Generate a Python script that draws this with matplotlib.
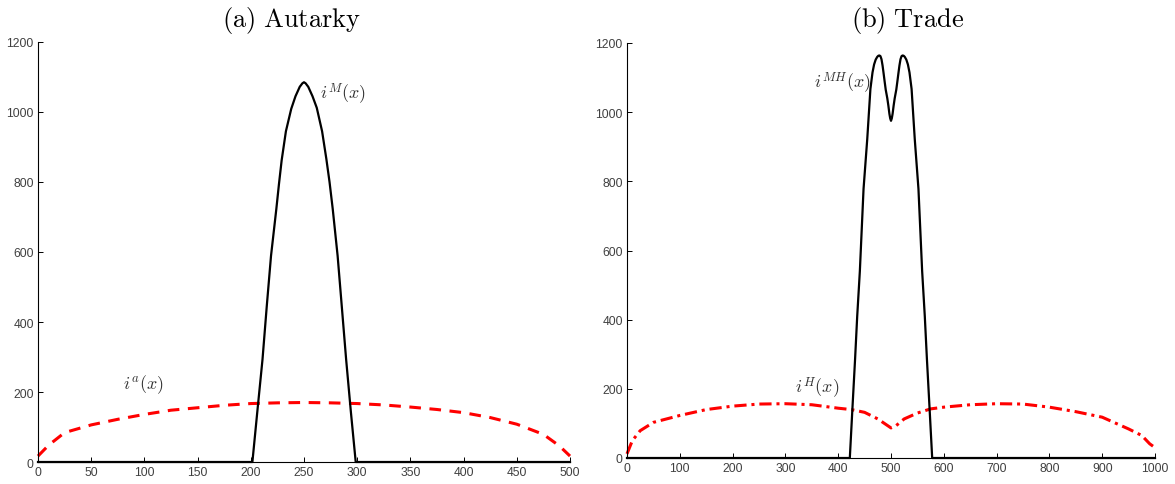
"""Autarky vs trade investment profiles, two panels side by side."""

import matplotlib

matplotlib.use("Agg")
import matplotlib.pyplot as plt

# panel (a): autarky
aut_x_red = [0, 10, 25, 50, 75, 100, 125, 150, 175, 200, 225, 250, 275, 300, 325, 350,
             375, 400, 425, 450, 475, 490, 500]
aut_i_a = [17, 48, 84, 106, 122, 136, 148, 155, 162, 167, 169, 170, 169, 167, 163, 157,
           150, 141, 127, 108, 79, 46, 17]
aut_x_black = [0, 201.5, 206, 211, 215, 219, 224, 226.5, 229, 233, 238, 242, 246, 248.5,
               250, 251.5, 254, 258, 262, 267, 271, 274, 277, 281.6, 285.5, 289.6, 294,
               298.6, 500]
aut_i_m = [0, 0, 140, 293, 445, 589, 723, 795, 862, 945, 1009, 1045, 1072, 1082,
           1085, 1082, 1072, 1045, 1012, 945, 866, 800, 723, 589, 445, 293, 145,
           0, 0]

# panel (b): trade
trd_x_red = [0, 10, 25, 50, 100, 150, 200, 250, 300, 350, 400, 425, 450, 475, 500,
             510, 525, 550, 575, 600, 650, 700, 750, 800, 850, 900, 950, 975, 990, 1000]
trd_i_h = [12, 50, 79, 103, 123, 140, 150, 156, 157, 154, 144, 140, 132, 113, 87,
           94, 113, 130, 142, 147, 154, 157, 156, 147, 134, 118, 84, 65, 41, 30]
trd_x_black = [0, 422, 427, 432, 436, 441, 448, 455, 461, 465, 468, 471, 474, 476, 478,
               480, 482, 484, 486, 488, 490, 493, 495, 497, 498.5, 500, 501.5, 503, 505,
               507, 510, 512, 514, 516, 518, 520, 522, 524, 526, 529, 532, 535, 539, 545,
               552, 559, 564, 568, 573, 578, 1000]
trd_i_mh = [0, 0, 145, 287, 410, 540, 778, 922, 1067, 1115, 1138, 1152, 1160, 1163, 1164,
            1162, 1153, 1135, 1112, 1088, 1065, 1040, 1019, 995, 982, 975, 982, 995, 1019,
            1040, 1065, 1088, 1112, 1135, 1153, 1162, 1164, 1163, 1160, 1152, 1138, 1115,
            1067, 922, 778, 540, 410, 287, 145, 0, 0]

yticks = [0, 200, 400, 600, 800, 1000, 1200]
aut_xticks = list(range(0, 501, 50))
trd_xticks = list(range(0, 1001, 100))

plt.rcParams["mathtext.fontset"] = "cm"
plt.rcParams["font.family"] = ["Liberation Sans", "DejaVu Sans"]

W, H = 1175, 485


def style_axis(axis, xmax, xticks):
    axis.set_xlim(0, xmax)
    axis.set_ylim(0, 1200)
    axis.set_xticks(xticks)
    axis.set_yticks(yticks)
    for side in ("top", "right"):
        axis.spines[side].set_visible(False)
    for side in ("left", "bottom"):
        axis.spines[side].set_linewidth(0.8)
    axis.tick_params(direction="in", length=3.5, width=0.7, labelsize=8.7,
                     labelcolor="#404040", pad=3)


fig = plt.figure(figsize=(W / 100, H / 100), dpi=100)
ax_a = fig.add_axes([38 / W, 1 - 463 / H, (570 - 38) / W, (463 - 43) / H])
ax_b = fig.add_axes([627 / W, 1 - 459 / H, (1155 - 627) / W, (459 - 44) / H])

ax_a.plot(aut_x_red, aut_i_a, color="#ff0000", lw=2.2, linestyle=(0, (3.8, 2.8)),
          clip_on=False, zorder=2)
ax_a.plot(aut_x_black, aut_i_m, color="black", lw=1.6, clip_on=False, zorder=3)
style_axis(ax_a, 500, aut_xticks)
ax_a.text(287, 1054, r"$i^M(x)$", fontsize=13, ha="center", va="center", color="#333333")
ax_a.text(99, 223, r"$i^a(x)$", fontsize=13, ha="center", va="center", color="#333333")

ax_b.plot(trd_x_red, trd_i_h, color="#ff0000", lw=2.2, linestyle=(0, (4, 1.6, 1, 1.6)),
          clip_on=False, zorder=2)
ax_b.plot(trd_x_black, trd_i_mh, color="black", lw=1.6, clip_on=False, zorder=3)
style_axis(ax_b, 1000, trd_xticks)
ax_b.text(407, 1087, r"$i^{MH}(x)$", fontsize=13, ha="center", va="center", color="#333333")
ax_b.text(360, 205, r"$i^H(x)$", fontsize=13, ha="center", va="center", color="#333333")

fig.text(291 / W, 1 - 20 / H, r"$\mathrm{(a)\ Autarky}$", fontsize=19, ha="center", va="center")
fig.text(908 / W, 1 - 20 / H, r"$\mathrm{(b)\ Trade}$", fontsize=19, ha="center", va="center")

fig.savefig("out.png", dpi=100)
plt.close(fig)
